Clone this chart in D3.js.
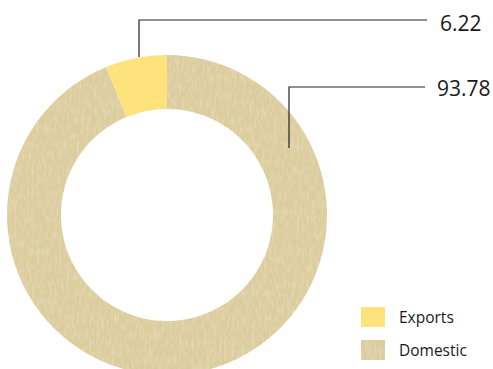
<!DOCTYPE html>
<html>
<head>
<meta charset="utf-8">
<script src="https://cdn.jsdelivr.net/npm/d3@7"></script>
<style>
  html, body { margin: 0; padding: 0; background: #fff; }
  svg { display: block; }
  text { font-family: "Open Sans", "Noto Sans", sans-serif; fill: #1a1a1a; }
</style>
</head>
<body>
<svg id="chart" width="493" height="369"></svg>
<script>
// Share of output by destination (%)
const categories = ["Domestic", "Exports"];
const values = [93.78, 6.22];
const valueLabels = ["93.78", "6.22"];
const legendOrder = ["Exports", "Domestic"];

const W = 493, H = 369;
const cx = 167, cy = 215, rOuter = 160, rInner = 106;

const svg = d3.select("#chart");
const defs = svg.append("defs");

// Woven burlap-like texture for the domestic share
const noise = defs.append("filter").attr("id", "weave")
  .attr("x", 0).attr("y", 0).attr("width", 1).attr("height", 1);
noise.append("feTurbulence").attr("type", "fractalNoise")
  .attr("baseFrequency", "0.4 0.12").attr("numOctaves", 2).attr("seed", 4).attr("result", "n");
noise.append("feColorMatrix").attr("in", "n").attr("type", "matrix")
  .attr("values", "0 0 0 0 0.94  0 0 0 0 0.90  0 0 0 0 0.74  0 0 0 1.2 -0.5");

const pat = defs.append("pattern").attr("id", "burlap")
  .attr("patternUnits", "userSpaceOnUse").attr("width", 340).attr("height", 340);
pat.append("rect").attr("width", 340).attr("height", 340).attr("fill", "#dccd9f");
pat.append("rect").attr("width", 340).attr("height", 340).attr("filter", "url(#weave)").attr("opacity", 0.6);

const swatchPat = defs.append("pattern").attr("id", "burlapSmall")
  .attr("patternUnits", "userSpaceOnUse").attr("width", 24).attr("height", 20)
  .attr("x", 361).attr("y", 340);
swatchPat.append("rect").attr("width", 24).attr("height", 20).attr("fill", "#dccd9f");
swatchPat.append("rect").attr("width", 24).attr("height", 20).attr("filter", "url(#weave)").attr("opacity", 0.6);

const color = d3.scaleOrdinal()
  .domain(categories)
  .range(["url(#burlap)", "#fee27c"]);
const legendColor = d3.scaleOrdinal()
  .domain(categories)
  .range(["url(#burlapSmall)", "#fee27c"]);

const pie = d3.pie().sort(null).value(d => d.value);
const arcs = pie(categories.map((c, i) => ({ name: c, value: values[i], label: valueLabels[i] })));
const arc = d3.arc().innerRadius(rInner).outerRadius(rOuter);

const g = svg.append("g").attr("transform", `translate(${cx},${cy})`);
g.selectAll("path.slice")
  .data(arcs)
  .join("path")
  .attr("class", "slice")
  .attr("d", arc)
  .attr("fill", d => color(d.data.name))
  .attr("stroke", "none");

// Leader lines: vertical stub rising from the ring, then a horizontal run to the value
const leader = {
  Exports:  { stubX: 139, stubBottom: 57,  lineY: 20, endX: 427, textX: 440, textY: 31 },
  Domestic: { stubX: 289, stubBottom: 148, lineY: 87, endX: 425, textX: 437, textY: 96 }
};

arcs.forEach(d => {
  const L = leader[d.data.name];
  svg.append("path")
    .attr("d", `M${L.stubX},${L.stubBottom}V${L.lineY}H${L.endX}`)
    .attr("fill", "none")
    .attr("stroke", "#222")
    .attr("stroke-width", 1.2);
  svg.append("text")
    .attr("x", L.textX).attr("y", L.textY)
    .attr("font-size", 21)
    .text(d.data.label);
});

// Legend
const legend = svg.append("g").attr("transform", "translate(361,307)");
const items = legend.selectAll("g")
  .data(legendOrder)
  .join("g")
  .attr("transform", (d, i) => `translate(0,${i * 33})`);
items.append("rect")
  .attr("width", 24).attr("height", 20)
  .attr("fill", d => legendColor(d));
items.append("text")
  .attr("x", 38).attr("y", 15.5)
  .attr("font-size", 15.5)
  .text(d => d);
</script>
</body>
</html>
